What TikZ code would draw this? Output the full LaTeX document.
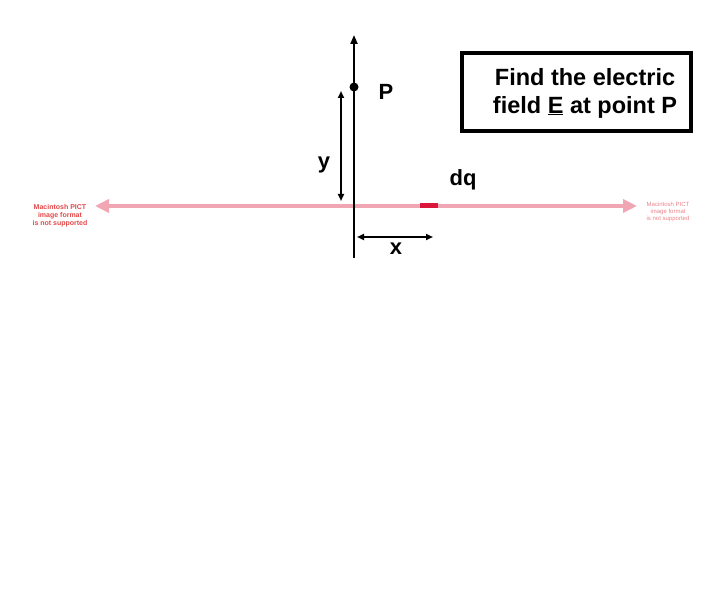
\documentclass[tikz,border=0pt]{standalone}
\usepackage{fontspec}
\setmainfont{Liberation Sans}
\usetikzlibrary{arrows.meta}
\definecolor{pinkline}{RGB}{241,166,180}
\definecolor{dqred}{RGB}{218,22,58}
\definecolor{picttext}{RGB}{226,72,72}
\definecolor{picttextb}{RGB}{236,130,140}
\begin{document}
\begin{tikzpicture}[x=1pt,y=-1pt,
  axisline/.style={line width=2pt,-{Triangle[length=9pt,width=7pt]}},
  dimline/.style={line width=1.8pt,{Triangle[length=7pt,width=6pt]}-{Triangle[length=7pt,width=6pt]}},
  lbl/.style={font=\bfseries\fontsize{22}{24}\selectfont,inner sep=0pt},
  pinkarrow/.style={draw=pinkline,line width=4pt,{Triangle[length=14pt,width=13pt]}-{Triangle[length=14pt,width=13pt]}},
  chargebit/.style={draw=dqred,line width=5pt},
  dot/.style={circle,fill=black,inner sep=0pt,minimum size=9pt},
  findbox/.style={draw=black,line width=3.2pt,minimum width=229pt,minimum height=78pt},
  boxtext/.style={align=center,font=\bfseries\fontsize{23.5}{28}\selectfont,inner sep=0pt},
  pict/.style={text=picttext,align=center,font=\bfseries\fontsize{7}{8}\selectfont,inner sep=0pt}
]
\useasboundingbox (0,0) rectangle (720,612);
% pink line
\coordinate (pl) at (95,206);
\coordinate (pr) at (637,206);
\draw[pinkarrow] (pl) -- (pr);
% charge element
\coordinate (dqa) at (420,206);
\coordinate (dqb) at (438,206);
\draw[chargebit] (dqa) -- (dqb);
\node[lbl] (dqlbl) at (463,180) {dq};
% vertical axis
\coordinate (axb) at (354,258);
\coordinate (axt) at (354,35);
\draw[axisline] (axb) -- (axt);
\node[dot] (P) at (354,87) {};
\node[lbl] (Plbl) at (386,92) {P};
% y dimension
\coordinate (ya) at (341,91);
\coordinate (yb) at (341,201);
\draw[dimline] (ya) -- (yb);
\node[lbl] (ylbl) at (324,165) {y};
% x dimension
\coordinate (xa) at (357,237);
\coordinate (xb) at (433,237);
\draw[dimline] (xa) -- (xb);
\node[lbl] (xlbl) at (396,249) {x};
% box
\node[findbox] (box) at (576.5,92) {};
\node[boxtext] (boxtxt) at (585,93) {Find the electric\\field \underline{E} at point P};
% PICT placeholders
\node[pict] (pictl) at (60,216) {Macintosh PICT\\image format\\is not supported};
\node[pict,text=picttextb,font=\fontsize{6}{7}\selectfont] (pictr) at (668,212) {Macintosh PICT\\image format\\is not supported};
\end{tikzpicture}
\end{document}
